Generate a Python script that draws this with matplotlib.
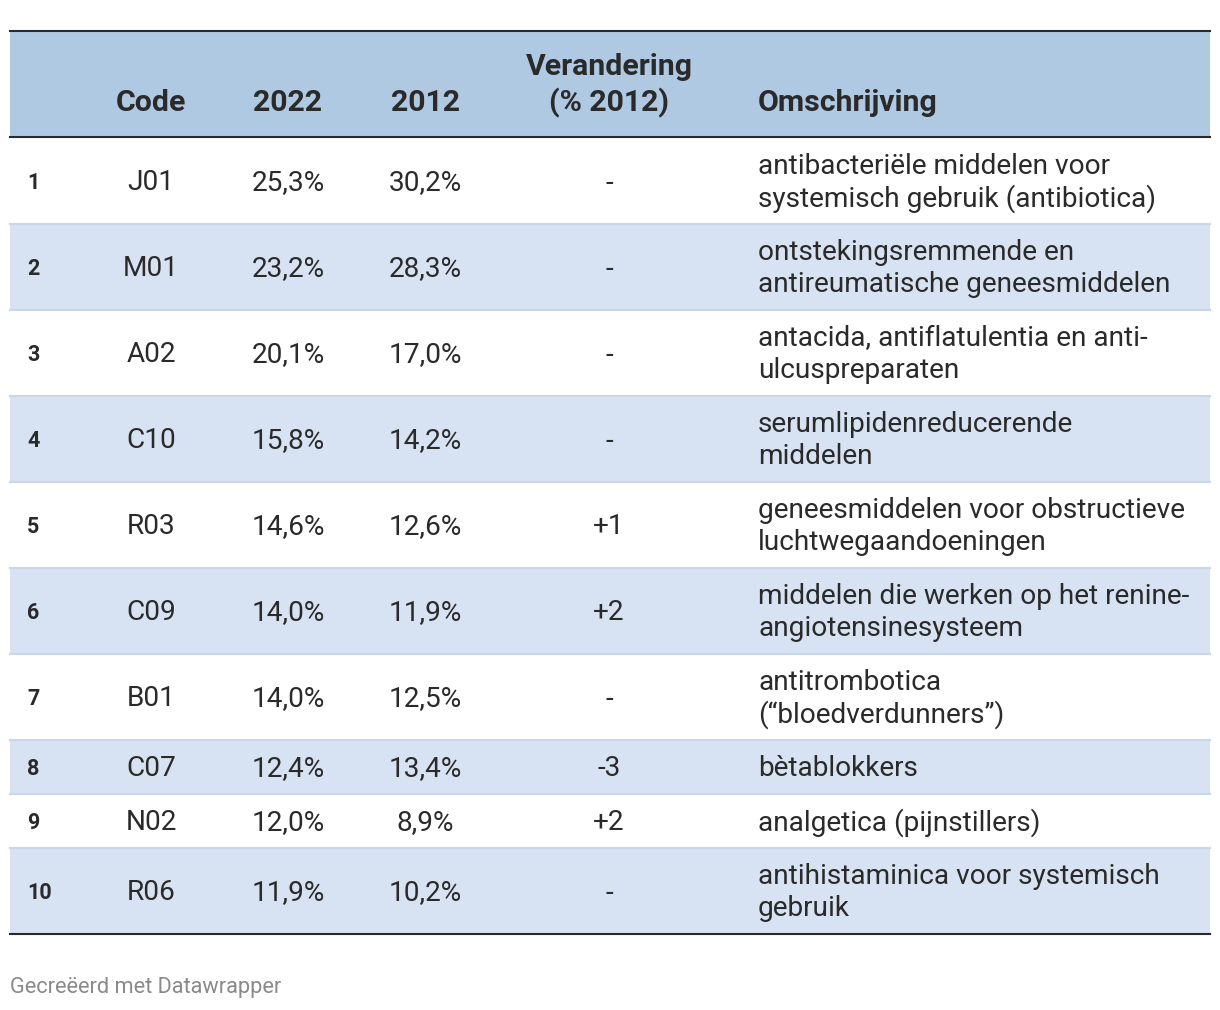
import matplotlib.pyplot as plt

plt.rcParams['font.family'] = ['Roboto', 'DejaVu Sans']

ranks = ['1', '2', '3', '4', '5', '6', '7', '8', '9', '10']
codes = ['J01', 'M01', 'A02', 'C10', 'R03', 'C09', 'B01', 'C07', 'N02', 'R06']
share_2022 = ['25,3%', '23,2%', '20,1%', '15,8%', '14,6%', '14,0%', '14,0%', '12,4%', '12,0%', '11,9%']
share_2012 = ['30,2%', '28,3%', '17,0%', '14,2%', '12,6%', '11,9%', '12,5%', '13,4%', '8,9%', '10,2%']
changes = ['-', '-', '-', '-', '+1', '+2', '-', '-3', '+2', '-']
descriptions = [
    ['antibacteriële middelen voor', 'systemisch gebruik (antibiotica)'],
    ['ontstekingsremmende en', 'antireumatische geneesmiddelen'],
    ['antacida, antiflatulentia en anti-', 'ulcuspreparaten'],
    ['serumlipidenreducerende', 'middelen'],
    ['geneesmiddelen voor obstructieve', 'luchtwegaandoeningen'],
    ['middelen die werken op het renine-', 'angiotensinesysteem'],
    ['antitrombotica', '(“bloedverdunners”)'],
    ['bètablokkers'],
    ['analgetica (pijnstillers)'],
    ['antihistaminica voor systemisch', 'gebruik'],
]

dark = '#2a2a2a'
head_bg = '#b0c9e3'
row_bg = '#d7e2f2'
sep = '#c8d6e8'

fig = plt.figure(figsize=(12.2, 10.1), dpi=100)
ax = fig.add_axes([0, 0, 1, 1])
ax.set_xlim(0, 1220)
ax.set_ylim(1010, 0)
ax.axis('off')

left, right = 10, 1210
x_rank, x_code, x_2022, x_2012, x_chg, x_desc = 27, 151, 288, 425, 609, 758
fs = 20.2
hfs = 21.8

# header
ax.fill_between([left, right], 31, 137, color=head_bg, lw=0)
ax.plot([left, right], [31, 31], color=dark, lw=1.5)
for x, t in [(x_code, 'Code'), (x_2022, '2022'), (x_2012, '2012')]:
    ax.text(x, 103, t, ha='center', va='center', fontsize=hfs, fontweight='bold', color=dark)
ax.text(x_chg, 67, 'Verandering', ha='center', va='center', fontsize=hfs, fontweight='bold', color=dark)
ax.text(x_chg, 103, '(% 2012)', ha='center', va='center', fontsize=hfs, fontweight='bold', color=dark)
ax.text(x_desc, 103, 'Omschrijving', ha='left', va='center', fontsize=hfs, fontweight='bold', color=dark)

y = 138
for i in range(len(ranks)):
    h = 86 if len(descriptions[i]) > 1 else 54
    if i % 2 == 1:
        ax.fill_between([left, right], y, y + h, color=row_bg, lw=0)
    cy = y + h / 2 + 2
    ax.text(x_rank, cy, ranks[i], ha='left', va='center', fontsize=15.5, fontweight='bold', color=dark)
    ax.text(x_code, cy, codes[i], ha='center', va='center', fontsize=fs, color=dark)
    ax.text(x_2022, cy, share_2022[i], ha='center', va='center', fontsize=fs, color=dark)
    ax.text(x_2012, cy, share_2012[i], ha='center', va='center', fontsize=fs, color=dark)
    ax.text(x_chg, cy, changes[i], ha='center', va='center', fontsize=fs, color=dark)
    lines = descriptions[i]
    if len(lines) == 1:
        ax.text(x_desc, cy, lines[0], ha='left', va='center', fontsize=fs, color=dark)
    else:
        ax.text(x_desc, cy - 16, lines[0], ha='left', va='center', fontsize=fs, color=dark)
        ax.text(x_desc, cy + 16, lines[1], ha='left', va='center', fontsize=fs, color=dark)
    y += h
    if i < len(ranks) - 1:
        ax.plot([left, right], [y - 0.5, y - 0.5], color=sep, lw=1.5)

ax.plot([left, right], [137, 137], color=dark, lw=1.5)
ax.plot([left, right], [y, y], color=dark, lw=1.5)

ax.text(left, 987, 'Gecreëerd met Datawrapper', ha='left', va='center', fontsize=15.7, color='#8a8a8a')

fig.savefig('out.png', dpi=100)
